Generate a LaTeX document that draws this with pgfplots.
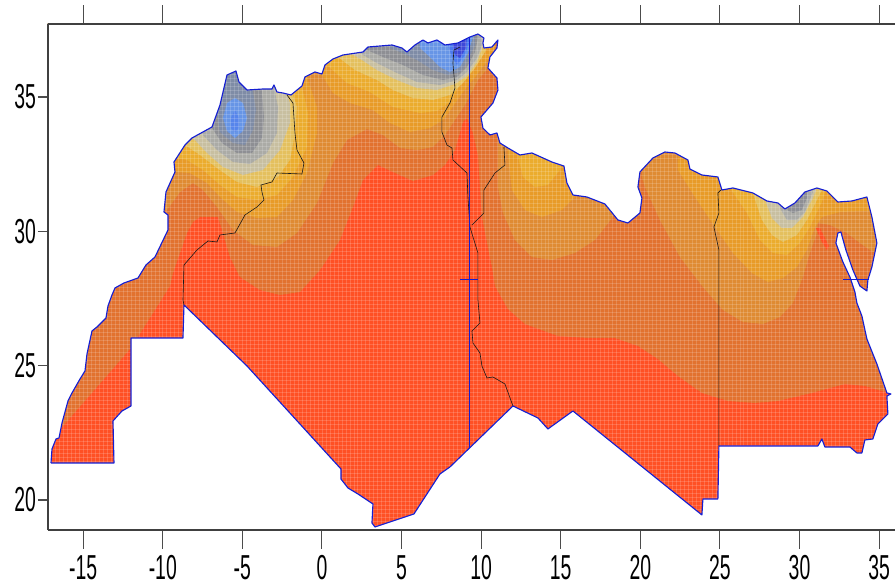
\documentclass[border=0pt]{standalone}
\usepackage{pgfplots}
\usepackage{pgfplotstable}
\usepackage{fontspec}
\setmainfont{Liberation Sans}
\pgfplotsset{compat=1.18}
\definecolor{LA}{HTML}{FF5024}
\definecolor{LB}{HTML}{E2722F}
\definecolor{LC}{HTML}{DF8B33}
\definecolor{LD}{HTML}{E89B28}
\definecolor{LE}{HTML}{EBAC2E}
\definecolor{LF}{HTML}{E4C05E}
\definecolor{LG}{HTML}{C8BFA0}
\definecolor{LH}{HTML}{ABABA6}
\definecolor{LI}{HTML}{8E8F94}
\definecolor{LJ}{HTML}{7F8CA6}
\definecolor{LK}{HTML}{6795E6}
\definecolor{LL}{HTML}{4C7AEE}
\definecolor{LM}{HTML}{3E49D8}
\definecolor{coast}{RGB}{20,30,210}
% outlines and contours are read off the picture; the style maps them to lon/lat
\pgfplotsset{/pgfplots/table/px/.style={header=false,row sep=\\,x expr={(\thisrowno{0}-322)/15.92},y expr={35-(\thisrowno{1}-97)/26.87}}}
\newcommand\poly[2]{\addplot[fill=#1,draw=none] table[px] {#2};}
\newcommand\bline[2]{\addplot[draw=#1,line width=.45pt,no marks] table[px] {#2};}
\pgfplotstableread[header=false,row sep=\\]{
51 463\\52 449\\56 439\\59 438\\62 423\\68 401\\72 393\\80 379\\85 371\\87 354\\92 331\\97 327\\106 318\\108 306\\112 295\\115 288\\124 283\\138 278\\146 265\\155 257\\168 230\\168 215\\164 212\\166 192\\175 172\\174 162\\185 145\\192 138\\212 127\\220 105\\227 75\\236 71\\239 82\\247 90\\263 89\\272 89\\274 85\\277 92\\283 93\\291 95\\302 86\\305 77\\315 72\\322 74\\325 65\\333 59\\343 55\\363 52\\368 47\\392 45\\402 48\\407 52\\415 45\\423 40\\428 43\\437 40\\445 45\\458 43\\470 37\\478 34\\484 38\\483 43\\484 48\\492 47\\498 40\\497 48\\490 57\\488 68\\497 78\\498 90\\493 103\\481 117\\483 128\\490 135\\497 133\\500 143\\508 148\\520 155\\532 153\\552 162\\564 166\\567 183\\573 195\\587 197\\605 204\\618 220\\628 223\\640 213\\642 198\\638 187\\640 172\\653 158\\665 152\\675 153\\688 160\\690 169\\702 175\\718 177\\722 190\\733 188\\753 193\\767 201\\778 203\\785 209\\795 203\\805 192\\817 188\\827 191\\838 202\\852 201\\867 197\\872 217\\877 243\\872 267\\868 280\\867 291\\860 286\\853 270\\846 250\\841 232\\838 233\\836 243\\843 262\\850 277\\855 292\\857 303\\862 316\\867 339\\877 364\\887 393\\891 394\\887 396\\888 414\\878 424\\873 439\\865 440\\862 453\\857 453\\850 447\\825 447\\822 439\\818 446\\719 446\\718 499\\703 499\\702 515\\573 411\\548 429\\538 418\\513 406\\450 467\\440 474\\414 514\\375 527\\372 523\\373 504\\358 494\\348 488\\341 479\\341 469\\247 366\\184 305\\183 338\\131 338\\131 406\\122 411\\113 421\\114 463\\51 463\\
}\land
\pgfplotstableread[header=false,row sep=\\]{
40 463\\40 10\\900 10\\900 545\\40 545\\40 463\\
}\maskframe
\pgfplotstableread[header=false,row sep=\\]{
40 463\\
}\maskend
\pgfplotstablevertcat{\maskframe}{\land}
\pgfplotstablevertcat{\maskframe}{\maskend}
\begin{document}
\begin{tikzpicture}
\path[use as bounding box] (-36pt,-42pt) rectangle (635.25pt,397.5pt);
\begin{axis}[
  scale only axis,width=635.25pt,height=379.5pt,
  xmin=-17.211,xmax=36.0,ymin=18.884,ymax=37.717,
  axis x line=none,axis y line*=left,
  axis on top,
  ytick={20,25,30,35},yticklabels={20,25,30,35},
  tick align=outside,major tick length=7.5pt,
  y axis line style={line width=.8pt,color=black!75},
  y tick style={line width=.8pt,color=black!70},
  yticklabel style={font=\fontsize{26}{26}\selectfont,xscale=.56,inner sep=1pt,xshift=-1.5pt},
]
\addplot[fill=LA,draw=none] table[px] {\land};
% level 1
\poly{LB}{50 440\\63 426\\131 348\\170 286\\173 273\\187 233\\193 222\\200 217\\218 217\\222 230\\230 257\\240 277\\260 290\\280 295\\300 292\\320 270\\340 240\\353 207\\363 180\\378 165\\393 172\\413 181\\433 175\\445 165\\455 150\\463 122\\467 118\\473 133\\478 155\\482 217\\492 267\\495 286\\508 309\\525 324\\558 336\\588 338\\615 338\\638 346\\658 359\\678 376\\702 393\\728 401\\755 403\\778 401\\812 393\\845 384\\865 386\\892 394\\900 394\\900 0\\40 0\\40 440\\}
% level 2
\poly{LC}{160 213\\167 210\\180 192\\193 183\\203 190\\217 207\\233 230\\253 245\\277 247\\297 233\\317 203\\333 163\\347 140\\367 129\\383 135\\400 148\\417 150\\433 147\\445 135\\455 120\\465 105\\478 80\\488 68\\495 55\\500 0\\40 0\\40 213\\}
\poly{LC}{498 120\\498 163\\498 187\\503 213\\515 240\\532 257\\552 260\\575 253\\595 240\\613 217\\620 150\\}
\poly{LC}{642 100\\642 177\\645 187\\660 220\\680 257\\703 287\\723 310\\743 322\\763 324\\780 317\\793 303\\803 277\\810 253\\817 233\\818 223\\830 225\\847 233\\860 243\\873 252\\900 252\\900 100\\}
% level 3
\poly{LD}{160 172\\175 172\\190 173\\207 183\\220 197\\237 212\\257 218\\277 217\\293 200\\307 173\\317 133\\317 107\\308 80\\300 0\\40 0\\40 172\\}
\poly{LD}{315 70\\322 75\\333 93\\350 103\\373 110\\390 123\\410 132\\430 128\\443 120\\452 108\\463 92\\476 76\\488 60\\495 48\\495 0\\315 0\\}
\poly{LD}{508 120\\508 155\\512 190\\525 210\\542 217\\562 210\\575 197\\590 150\\}
\poly{LD}{678 100\\678 170\\695 197\\715 227\\733 253\\752 273\\768 282\\783 278\\797 267\\807 250\\815 227\\822 217\\840 212\\870 211\\900 211\\900 100\\}
% level 4
\poly{LE}{160 158\\175 158\\187 160\\203 170\\220 185\\237 197\\257 200\\277 195\\293 177\\307 147\\308 113\\302 87\\296 0\\40 0\\40 158\\}
\poly{LE}{327 0\\327 65\\347 83\\370 92\\393 107\\420 113\\437 111\\450 102\\460 85\\472 70\\483 55\\492 42\\492 0\\}
\poly{LE}{518 130\\518 157\\523 177\\535 187\\548 185\\560 170\\565 130\\}
\poly{LE}{730 150\\730 188\\747 213\\760 240\\773 253\\787 255\\800 243\\810 227\\822 202\\825 193\\835 150\\}
% level 5
\poly{LF}{170 145\\185 145\\200 155\\217 168\\237 182\\257 187\\277 178\\290 160\\295 133\\297 107\\293 95\\290 0\\40 0\\40 145\\}
\poly{LF}{338 0\\338 57\\355 70\\377 80\\393 90\\413 98\\433 100\\450 95\\463 83\\475 68\\485 52\\490 0\\}
\poly{LF}{753 150\\753 193\\762 220\\772 235\\783 242\\797 235\\807 220\\818 198\\822 190\\830 150\\}
% level 6
\poly{LG}{185 125\\193 138\\207 153\\223 167\\243 175\\263 170\\280 150\\290 123\\290 103\\287 95\\285 0\\40 0\\40 125\\}
\poly{LG}{350 0\\350 53\\362 60\\377 70\\397 80\\417 88\\437 90\\455 84\\467 76\\477 62\\483 46\\485 0\\}
\poly{LG}{766 150\\766 202\\772 218\\782 228\\792 228\\803 217\\813 198\\817 188\\825 150\\}
% level 7
\poly{LH}{195 120\\203 135\\217 150\\233 162\\250 164\\267 153\\277 133\\278 107\\275 92\\272 0\\40 0\\40 120\\}
\poly{LH}{358 0\\358 52\\375 62\\397 73\\417 82\\440 85\\457 80\\467 72\\477 58\\482 45\\482 0\\}
\poly{LH}{780 150\\780 208\\787 220\\797 220\\805 212\\813 192\\815 150\\}
% level 8
\poly{LI}{205 115\\212 128\\222 143\\237 153\\252 153\\262 138\\264 117\\262 93\\260 0\\40 0\\40 115\\}
\poly{LI}{367 0\\367 50\\383 57\\403 65\\423 75\\443 80\\457 77\\467 67\\475 52\\478 38\\478 0\\}
\poly{LI}{787 150\\787 210\\793 213\\802 210\\807 198\\808 150\\}
% level 9
\poly{LJ}{210 100\\217 113\\220 132\\233 143\\245 145\\253 130\\256 110\\253 92\\250 0\\40 0\\40 100\\}
\poly{LJ}{390 0\\390 48\\403 53\\417 60\\433 70\\448 75\\460 72\\468 60\\475 45\\475 0\\}
% level 10
\poly{LK}{235 98\\243 103\\247 118\\243 131\\235 138\\227 131\\223 118\\227 103\\}
\poly{LK}{420 0\\420 48\\430 57\\440 67\\450 72\\460 67\\468 53\\473 37\\473 0\\}
% level 11
\poly{LL!60!LK}{235 110\\239 118\\239 128\\235 132\\231 128\\231 118\\}
\poly{LL}{448 0\\448 45\\452 57\\457 65\\465 55\\470 40\\470 0\\}
% level 12
\poly{LM}{453 0\\453 45\\455 55\\460 58\\466 48\\467 38\\467 0\\}
% streak in Egypt
\poly{LA}{816 228\\820 228\\829 246\\827 250\\822 242\\}
% native grid texture
\pgfplotsinvokeforeach{-17.25,-17,...,36}{\draw[white,opacity=.16,line width=.45pt] (axis cs:#1,18.8) -- (axis cs:#1,37.8);}
\pgfplotsinvokeforeach{18.9,19.05,...,37.8}{\draw[white,opacity=.16,line width=.45pt] (axis cs:-17.3,#1) -- (axis cs:36.1,#1);}
% everything off the land is white
\addplot[fill=white,draw=none,even odd rule] table[px] {\maskframe};
% coast
\addplot[draw=coast,line width=.85pt,no marks,line join=round] table[px] {\land};
% inner frontiers
\bline{black!90}{287 95\\293 103\\295 133\\297 150\\304 163\\302 174\\277 173\\272 182\\261 185\\262 192\\264 200\\257 207\\245 215\\235 233\\220 235\\217 242\\208 241\\197 250\\184 265\\183 300\\184 305\\}
\bline{black!90}{460 47\\454 50\\453 63\\455 88\\450 103\\442 117\\442 132\\447 145\\452 148\\453 160\\467 173\\468 197\\470 227\\478 253\\478 300\\480 323\\472 331\\473 343\\480 353\\482 366\\487 378\\493 377\\505 384\\513 406\\}
\bline{black!90}{504 147\\505 165\\495 173\\484 190\\484 213\\472 225\\}
\bline{black!90}{721 190\\718 193\\719 213\\714 227\\719 250\\719 300\\719 446\\}
\bline{coast}{469 37\\469 448\\}
\bline{coast}{460 279\\478 279\\}
\bline{coast}{843 279\\869 279\\}
\end{axis}
\begin{axis}[
  scale only axis,width=635.25pt,height=379.5pt,
  xmin=-17.211,xmax=36.0,ymin=18.884,ymax=37.717,
  axis y line=none,axis x line*=box,
  xtick={-15,-10,-5,0,5,10,15,20,25,30,35},
  xticklabels={-15,-10,-5,0,5,10,15,20,25,30,35},
  tick align=outside,major tick length=14pt,
  x axis line style={line width=.8pt,color=black!75},
  x tick style={line width=.8pt,color=black!70},
  xticklabel style={font=\fontsize{26}{26}\selectfont,xscale=.56,inner sep=0pt,yshift=-5pt},
]
\end{axis}
\end{tikzpicture}
\end{document}
